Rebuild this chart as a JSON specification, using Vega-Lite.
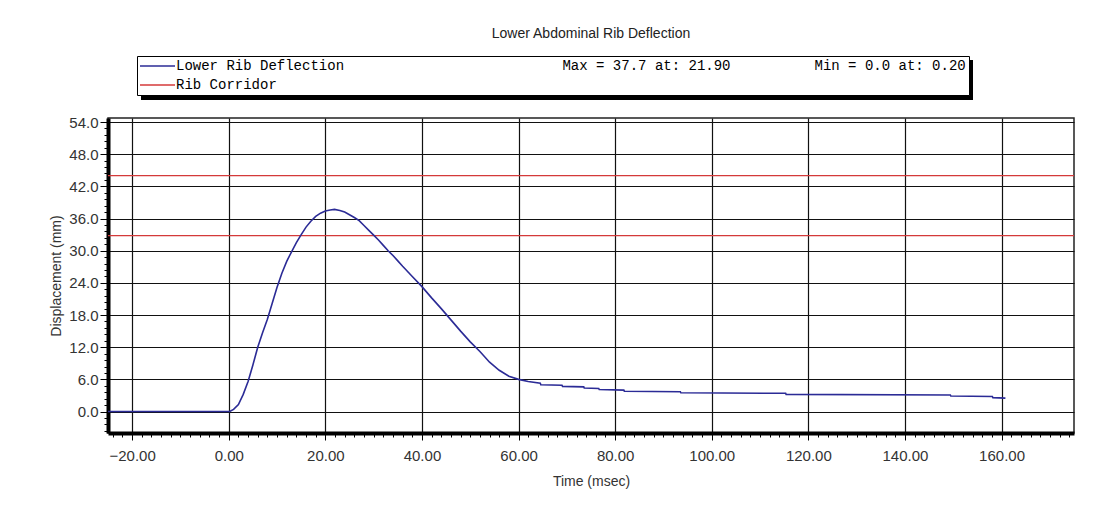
{
  "$schema": "https://vega.github.io/schema/vega-lite/v6.json",
  "width": 966,
  "height": 315,
  "autosize": {"type": "none"},
  "padding": {"left": 108, "top": 118, "right": 23, "bottom": 73},
  "background": "#ffffff",
  "title": {
    "text": "Lower Abdominal Rib Deflection",
    "font": "Liberation Sans",
    "fontSize": 14,
    "fontWeight": "normal",
    "color": "#222222",
    "anchor": "middle",
    "offset": 15
  },
  "datasets": {
    "deflection": [
      {"t": -25, "d": 0, "series": "Lower Rib Deflection"},
      {"t": 0.2, "d": 0, "series": "Lower Rib Deflection"},
      {"t": 1, "d": 0.4, "series": "Lower Rib Deflection"},
      {"t": 2, "d": 1.3, "series": "Lower Rib Deflection"},
      {"t": 3, "d": 3.2, "series": "Lower Rib Deflection"},
      {"t": 4, "d": 5.6, "series": "Lower Rib Deflection"},
      {"t": 5, "d": 8.7, "series": "Lower Rib Deflection"},
      {"t": 6, "d": 12.0, "series": "Lower Rib Deflection"},
      {"t": 7, "d": 14.7, "series": "Lower Rib Deflection"},
      {"t": 8, "d": 17.2, "series": "Lower Rib Deflection"},
      {"t": 9, "d": 20.2, "series": "Lower Rib Deflection"},
      {"t": 10, "d": 23.2, "series": "Lower Rib Deflection"},
      {"t": 11, "d": 25.8, "series": "Lower Rib Deflection"},
      {"t": 12, "d": 28.0, "series": "Lower Rib Deflection"},
      {"t": 13, "d": 29.8, "series": "Lower Rib Deflection"},
      {"t": 14, "d": 31.5, "series": "Lower Rib Deflection"},
      {"t": 15, "d": 33.0, "series": "Lower Rib Deflection"},
      {"t": 16, "d": 34.4, "series": "Lower Rib Deflection"},
      {"t": 17, "d": 35.5, "series": "Lower Rib Deflection"},
      {"t": 18, "d": 36.4, "series": "Lower Rib Deflection"},
      {"t": 19, "d": 37.0, "series": "Lower Rib Deflection"},
      {"t": 20, "d": 37.4, "series": "Lower Rib Deflection"},
      {"t": 21, "d": 37.6, "series": "Lower Rib Deflection"},
      {"t": 21.9, "d": 37.7, "series": "Lower Rib Deflection"},
      {"t": 23, "d": 37.5, "series": "Lower Rib Deflection"},
      {"t": 24, "d": 37.2, "series": "Lower Rib Deflection"},
      {"t": 25, "d": 36.7, "series": "Lower Rib Deflection"},
      {"t": 26, "d": 36.2, "series": "Lower Rib Deflection"},
      {"t": 27, "d": 35.6, "series": "Lower Rib Deflection"},
      {"t": 28, "d": 34.7, "series": "Lower Rib Deflection"},
      {"t": 29, "d": 33.8, "series": "Lower Rib Deflection"},
      {"t": 30, "d": 32.9, "series": "Lower Rib Deflection"},
      {"t": 31, "d": 32.0, "series": "Lower Rib Deflection"},
      {"t": 32, "d": 31.0, "series": "Lower Rib Deflection"},
      {"t": 33, "d": 30.0, "series": "Lower Rib Deflection"},
      {"t": 34, "d": 29.1, "series": "Lower Rib Deflection"},
      {"t": 35, "d": 28.1, "series": "Lower Rib Deflection"},
      {"t": 36, "d": 27.1, "series": "Lower Rib Deflection"},
      {"t": 38, "d": 25.2, "series": "Lower Rib Deflection"},
      {"t": 40, "d": 23.3, "series": "Lower Rib Deflection"},
      {"t": 42, "d": 21.2, "series": "Lower Rib Deflection"},
      {"t": 44, "d": 19.2, "series": "Lower Rib Deflection"},
      {"t": 46, "d": 17.1, "series": "Lower Rib Deflection"},
      {"t": 48, "d": 15.0, "series": "Lower Rib Deflection"},
      {"t": 50, "d": 13.0, "series": "Lower Rib Deflection"},
      {"t": 52, "d": 11.2, "series": "Lower Rib Deflection"},
      {"t": 54, "d": 9.2, "series": "Lower Rib Deflection"},
      {"t": 56, "d": 7.7, "series": "Lower Rib Deflection"},
      {"t": 58, "d": 6.6, "series": "Lower Rib Deflection"},
      {"t": 60, "d": 6.0, "series": "Lower Rib Deflection"},
      {"t": 62, "d": 5.6, "series": "Lower Rib Deflection"},
      {"t": 64.5, "d": 5.3, "series": "Lower Rib Deflection"},
      {"t": 64.6, "d": 5.0, "series": "Lower Rib Deflection"},
      {"t": 69, "d": 4.9, "series": "Lower Rib Deflection"},
      {"t": 69.1, "d": 4.7, "series": "Lower Rib Deflection"},
      {"t": 73.5, "d": 4.6, "series": "Lower Rib Deflection"},
      {"t": 73.6, "d": 4.4, "series": "Lower Rib Deflection"},
      {"t": 76.6, "d": 4.3, "series": "Lower Rib Deflection"},
      {"t": 76.7, "d": 4.1, "series": "Lower Rib Deflection"},
      {"t": 81.8, "d": 4.0, "series": "Lower Rib Deflection"},
      {"t": 81.9, "d": 3.8, "series": "Lower Rib Deflection"},
      {"t": 93.5, "d": 3.7, "series": "Lower Rib Deflection"},
      {"t": 93.6, "d": 3.5, "series": "Lower Rib Deflection"},
      {"t": 115.3, "d": 3.4, "series": "Lower Rib Deflection"},
      {"t": 115.4, "d": 3.2, "series": "Lower Rib Deflection"},
      {"t": 149.4, "d": 3.1, "series": "Lower Rib Deflection"},
      {"t": 149.5, "d": 2.9, "series": "Lower Rib Deflection"},
      {"t": 158.1, "d": 2.8, "series": "Lower Rib Deflection"},
      {"t": 158.2, "d": 2.6, "series": "Lower Rib Deflection"},
      {"t": 160.8, "d": 2.5, "series": "Lower Rib Deflection"}
    ],
    "corridor": [
      {"d": 44.0, "series": "Rib Corridor"},
      {"d": 32.8, "series": "Rib Corridor"}
    ]
  },
  "layer": [
    {
      "data": {"name": "corridor"},
      "mark": {"type": "rule", "opacity": 0},
      "encoding": {
        "y": {"field": "d", "type": "quantitative"},
        "stroke": {
          "field": "d",
          "type": "quantitative",
          "scale": {"range": ["#000000", "#000000"]},
          "legend": {
            "type": "gradient",
            "orient": "none",
            "legendX": 33,
            "legendY": -58,
            "direction": "horizontal",
            "title": null,
            "gradientLength": 832,
            "gradientThickness": 40,
            "gradientStrokeWidth": 0,
            "padding": 0,
            "labelExpr": "''",
            "labelOpacity": 0,
            "tickCount": 2
          }
        }
      }
    },
    {
      "data": {"name": "corridor"},
      "mark": {"type": "rule", "strokeWidth": 1.3, "color": "#d43a3a"},
      "encoding": {
        "y": {"field": "d", "type": "quantitative"}
      }
    },
    {
      "data": {"name": "deflection"},
      "mark": {"type": "line", "strokeWidth": 1.6},
      "encoding": {
        "x": {
          "field": "t",
          "type": "quantitative",
          "scale": {"domain": [-25, 175], "nice": false, "zero": false},
          "axis": {
            "title": "Time (msec)",
            "tickCount": 1000,
            "values": [-24,-22,-20,-18,-16,-14,-12,-10,-8,-6,-4,-2,0,2,4,6,8,10,12,14,16,18,20,22,24,26,28,30,32,34,36,38,40,42,44,46,48,50,52,54,56,58,60,62,64,66,68,70,72,74,76,78,80,82,84,86,88,90,92,94,96,98,100,102,104,106,108,110,112,114,116,118,120,122,124,126,128,130,132,134,136,138,140,142,144,146,148,150,152,154,156,158,160,162,164,166,168,170,172,174],
            "labelExpr": "abs(datum.value / 20 - round(datum.value / 20)) < 0.001 ? format(datum.value, '.2f') : ''",
            "labelOverlap": false,
            "labelFlush": false,
            "grid": true,
            "gridColor": "#111111",
            "gridWidth": 1.2,
            "gridOpacity": {"condition": {"test": "abs(datum.value / 20 - round(datum.value / 20)) > 0.001", "value": 0}, "value": 1},
            "tickColor": "#000000",
            "tickSize": {"condition": {"test": "abs(datum.value / 20 - round(datum.value / 20)) < 0.001", "value": 7}, "value": 4},
            "domainColor": "#000000",
            "domainWidth": 4,
            "labelFont": "Liberation Sans",
            "labelFontSize": 15,
            "labelColor": "#333333",
            "labelPadding": 8,
            "titleFont": "Liberation Sans",
            "titleFontSize": 14,
            "titleFontWeight": "normal",
            "titleColor": "#333333",
            "titlePadding": 11
          }
        },
        "y": {
          "field": "d",
          "type": "quantitative",
          "scale": {"domain": [-4, 54.75], "nice": false, "zero": false},
          "axis": {
            "title": "Displacement (mm)",
            "tickCount": 1000,
            "values": [-3.6,-2.4,-1.2,0,1.2,2.4,3.6,4.8,6,7.2,8.4,9.6,10.8,12,13.2,14.4,15.6,16.8,18,19.2,20.4,21.6,22.8,24,25.2,26.4,27.6,28.8,30,31.2,32.4,33.6,34.8,36,37.2,38.4,39.6,40.8,42,43.2,44.4,45.6,46.8,48,49.2,50.4,51.6,52.8,54],
            "labelExpr": "abs(datum.value / 6 - round(datum.value / 6)) < 0.001 ? format(datum.value, '.1f') : ''",
            "labelOverlap": false,
            "labelFlush": false,
            "grid": true,
            "gridColor": "#111111",
            "gridWidth": 1.2,
            "gridOpacity": {"condition": {"test": "abs(datum.value / 6 - round(datum.value / 6)) > 0.001", "value": 0}, "value": 1},
            "tickColor": "#000000",
            "tickSize": {"condition": {"test": "abs(datum.value / 6 - round(datum.value / 6)) < 0.001", "value": 8}, "value": 4},
            "domainColor": "#000000",
            "domainWidth": 4,
            "labelFont": "Liberation Sans",
            "labelFontSize": 15,
            "labelColor": "#333333",
            "labelPadding": 2,
            "titleFont": "Liberation Sans",
            "titleFontSize": 14,
            "titleFontWeight": "normal",
            "titleColor": "#333333",
            "titlePadding": 5
          }
        },
        "color": {
          "field": "series",
          "type": "nominal",
          "scale": {"domain": ["Lower Rib Deflection", "Rib Corridor"], "range": ["#2b2b96", "#d43a3a"]},
          "legend": {
            "orient": "none",
            "legendX": 29,
            "legendY": -62,
            "direction": "vertical",
            "title": null,
            "symbolType": "M0,0H7",
            "symbolSize": 100,
            "symbolStrokeWidth": 1.5,
            "symbolOffset": -7,
            "labelFont": "Liberation Mono",
            "labelFontSize": 14,
            "labelColor": "#000000",
            "labelLimit": 2000,
            "labelOffset": 29,
            "padding": 3,
            "rowPadding": 5,
            "strokeColor": "#000000",
            "fillColor": "#ffffff",
            "labelExpr": "datum.label === 'Lower Rib Deflection' ? pad('Lower Rib Deflection', 46, '\u00a0') + pad('Max = 37.7 at: 21.90', 30, '\u00a0') + 'Min = 0.0 at: 0.20' : datum.label"
          }
        }
      }
    }
  ],
  "config": {
    "view": {"stroke": "#222222", "strokeWidth": 1.5}
  }
}
